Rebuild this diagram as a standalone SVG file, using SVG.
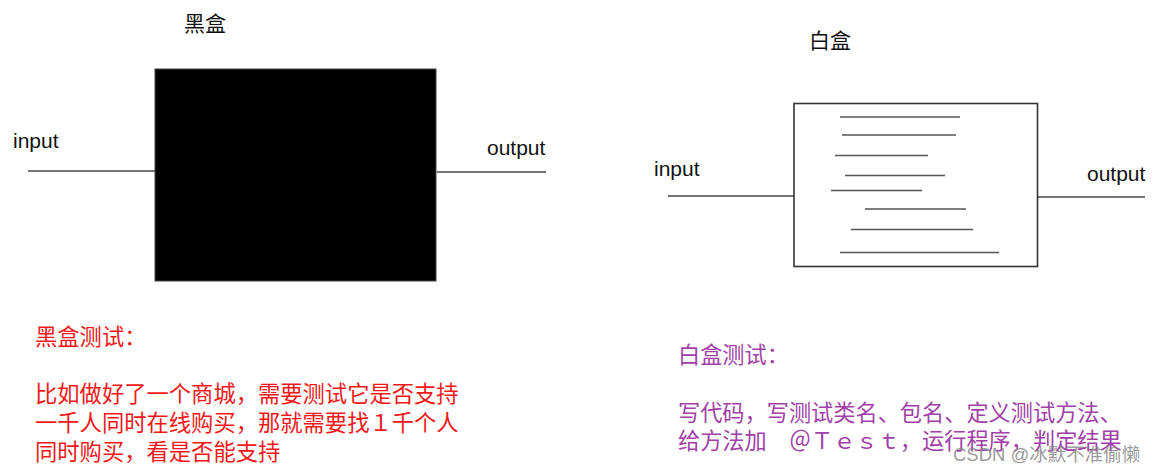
<svg xmlns="http://www.w3.org/2000/svg" width="1159" height="472" viewBox="0 0 1159 472">
<style>
.lat{font-family:"Liberation Sans",Arial,sans-serif;font-size:21px;fill:#111}
.cjk{font-family:"Noto Sans CJK SC","Noto Sans",sans-serif}
.title{font-size:21px;fill:#111}
.red{font-size:22.3px;fill:#f01818}
.pur{font-size:22.2px;fill:#a23fa8}
.wire{stroke:#444;stroke-width:1.4;fill:none}
.code{stroke:#555;stroke-width:1.6}
</style>
<rect width="1159" height="472" fill="#fff"/>
<g id="connectors">
<line class="wire" x1="28" y1="171" x2="155" y2="171"/>
<line class="wire" x1="437" y1="172" x2="546" y2="172"/>
<line class="wire" x1="668" y1="196" x2="794" y2="196"/>
<line class="wire" x1="1038" y1="197" x2="1145" y2="197"/>
</g>
<g id="black-box">
<rect x="155" y="69" width="281" height="212" fill="#000" stroke="#444" stroke-width="1"/>
<text class="cjk title" x="184" y="31">黑盒</text>
<text class="lat" x="13" y="148">input</text>
<text class="lat" x="487" y="155">output</text>
</g>
<g id="white-box">
<rect x="794" y="103.5" width="243.5" height="163" fill="#fff" stroke="#333" stroke-width="1.6"/>
<line class="code" x1="840" y1="117" x2="960" y2="117"/>
<line class="code" x1="842" y1="135" x2="956" y2="135"/>
<line class="code" x1="835" y1="155.5" x2="928" y2="155.5"/>
<line class="code" x1="845" y1="175.5" x2="945" y2="175.5"/>
<line class="code" x1="831" y1="190.5" x2="922" y2="190.5"/>
<line class="code" x1="865" y1="209" x2="966" y2="209"/>
<line class="code" x1="851" y1="229.5" x2="973" y2="229.5"/>
<line class="code" x1="840" y1="252.5" x2="999" y2="252.5"/>
<text class="cjk title" x="809" y="48">白盒</text>
<text class="lat" x="654" y="176">input</text>
<text class="lat" x="1087" y="181">output</text>
</g>
<g id="black-box-note">
<text class="cjk red" x="35" y="345">黑盒测试：</text>
<text class="cjk red" x="35" y="402">比如做好了一个商城，需要测试它是否支持</text>
<text class="cjk red" x="35" y="431">一千人同时在线购买，那就需要找１千个人</text>
<text class="cjk red" x="35" y="460">同时购买，看是否能支持</text>
</g>
<g id="white-box-note">
<text class="cjk pur" x="678" y="363">白盒测试：</text>
<text class="cjk pur" x="678" y="421">写代码，写测试类名、包名、定义测试方法、</text>
<text class="cjk pur" x="678" y="449">给方法加　＠Ｔｅｓｔ，运行程序，判定结果</text>
</g>
<g id="watermark">
<text x="953" y="461" font-family="Liberation Sans,Noto Sans CJK SC,sans-serif" font-size="18.5" fill="#888" fill-opacity="0.85">CSDN @冰默不准偷懒</text>
</g>
</svg>
